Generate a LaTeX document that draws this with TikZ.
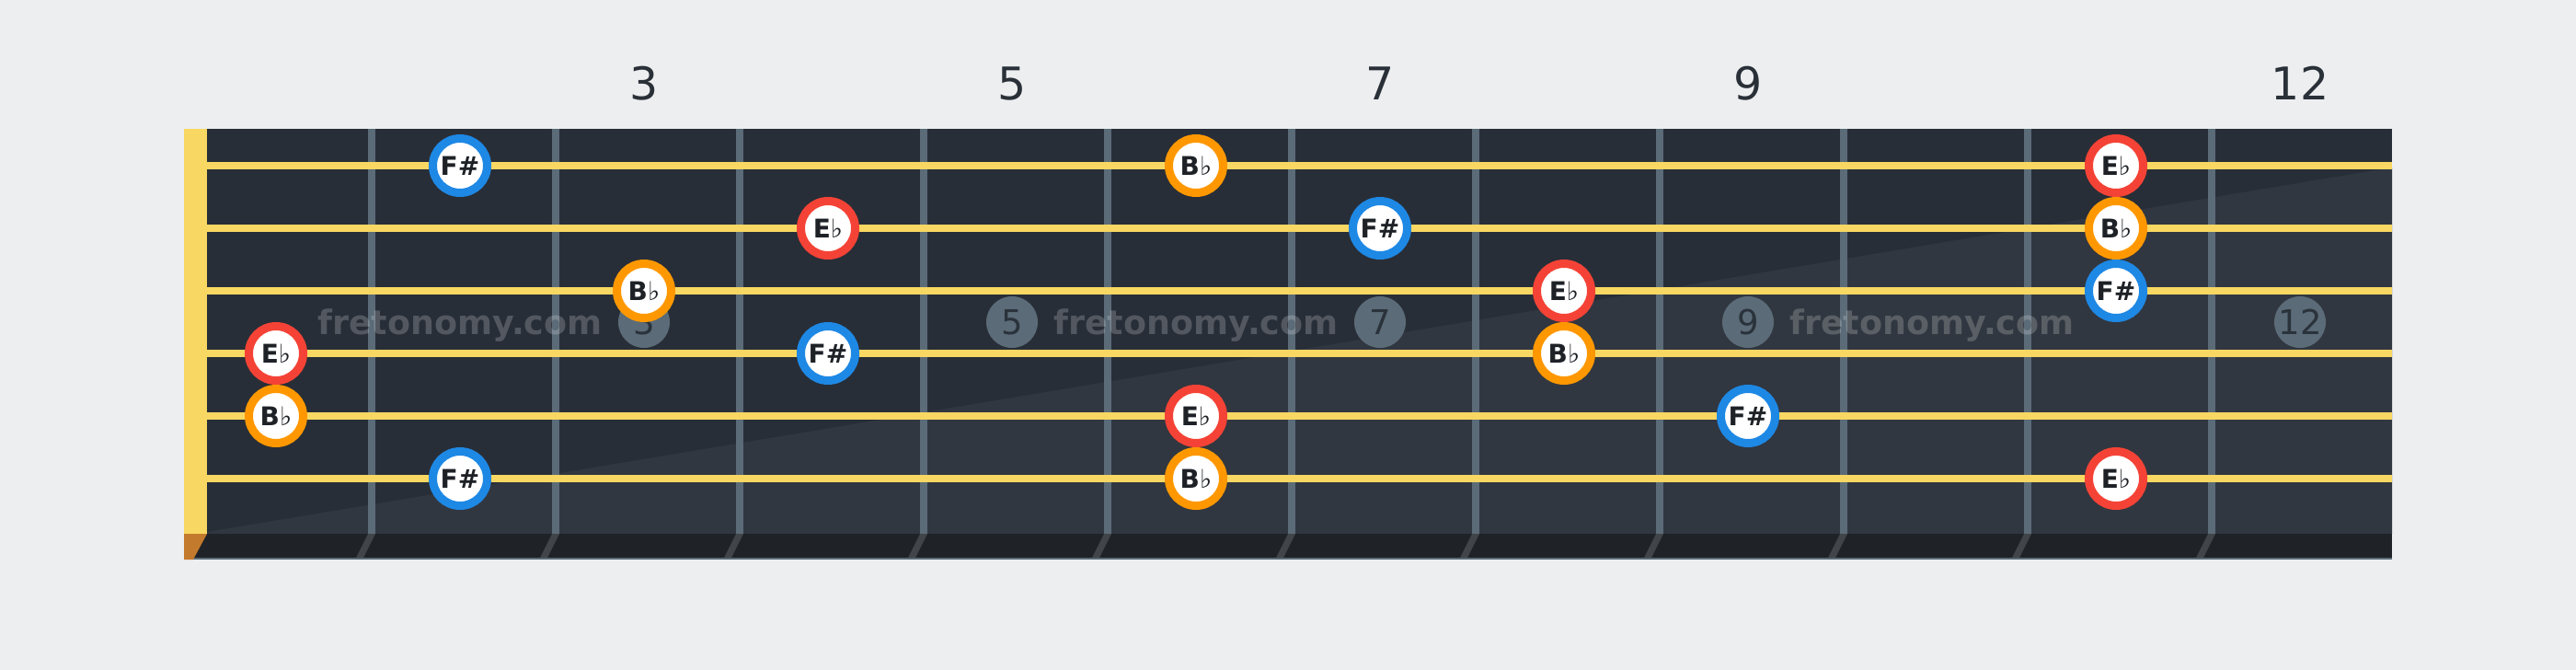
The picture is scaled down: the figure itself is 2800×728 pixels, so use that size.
\documentclass[tikz,border=0pt]{standalone}
\usepackage{fontspec}
\setmainfont{DejaVu Sans}
\definecolor{bg}{HTML}{EDEEF0}
\definecolor{board}{HTML}{282E37}
\definecolor{boardlight}{HTML}{313740}
\definecolor{fretc}{HTML}{5B6B78}
\definecolor{stringc}{HTML}{F8D762}
\definecolor{nutc}{HTML}{F8D862}
\definecolor{strip}{HTML}{1F2328}
\definecolor{stripfret}{HTML}{414549}
\definecolor{nutbot}{HTML}{C47A2C}
\definecolor{numtxt}{HTML}{2A3038}
\definecolor{inlaytxt}{HTML}{2A323B}
\definecolor{notetxt}{HTML}{1E2227}
\definecolor{fsharp}{HTML}{1E88E5}
\definecolor{bflat}{HTML}{FF9800}
\definecolor{eflat}{HTML}{F44336}
\begin{document}
\begin{tikzpicture}[x=1pt,y=-1pt,
  note/.style={circle, fill=white, draw=#1, line width=9pt, minimum size=59pt, inner sep=0pt,
    font=\fontsize{28}{28}\selectfont\bfseries, text=notetxt},
  inlay/.style={circle, fill=fretc, minimum size=56pt, inner sep=0pt,
    font=\fontsize{37}{37}\selectfont, text=inlaytxt},
  wm/.style={anchor=base, inner sep=0pt, font=\fontsize{36.5}{36.5}\selectfont\bfseries,
    text=white, text opacity=0.2},
  fretnum/.style={anchor=base, inner sep=0pt, font=\fontsize{49}{49}\selectfont, text=numtxt}]
\useasboundingbox (0,0) rectangle (2800,728);
\fill[bg] (0,0) rectangle (2800,728);
% fretboard
\fill[board] (225,140) rectangle (2600,580);
\fill[boardlight] (225,578) -- (2600,182) -- (2600,580) -- (225,580) -- cycle;
% bottom strip
\fill[strip] (200,580) rectangle (2600,606);
\fill[fretc] (200,606) rectangle (2600,608);
% frets
\foreach \i in {0,...,10}{
  \fill[fretc] ({400+200*\i},140) rectangle ({408+200*\i},580);
  \fill[stripfret] ({400+200*\i},580) -- ({408+200*\i},580) -- ({395+200*\i},606) -- ({387+200*\i},606) -- cycle;
}
% nut
\fill[nutc] (200,140) rectangle (225,580);
\fill[nutbot] (200,580) -- (225,580) -- (210,608) -- (200,608) -- cycle;
% fret numbers
\node[fretnum] (n3) at (700,108) {3};
\node[fretnum] (n5) at (1100,108) {5};
\node[fretnum] (n7) at (1500,108) {7};
\node[fretnum] (n9) at (1900,108) {9};
\node[fretnum] (n12) at (2500,108) {12};
% inlays
\node[inlay] (i3) at (700,350) {3};
\node[inlay] (i5) at (1100,350) {5};
\node[inlay] (i7) at (1500,350) {7};
\node[inlay] (i9) at (1900,350) {9};
\node[inlay] (i12) at (2500,350) {12};
% watermark
\node[wm] (w1) at (500,363) {fretonomy.com};
\node[wm] (w2) at (1300,363) {fretonomy.com};
\node[wm] (w3) at (2100,363) {fretonomy.com};
% strings
\foreach \y in {180,248,316,384,452,520}{
  \fill[stringc] (225,{\y-4}) rectangle (2600,{\y+4});
}
% notes
\newcommand{\Fs}{F\#}
\newcommand{\Bf}{B{\mdseries ♭}}
\newcommand{\Ef}{E{\mdseries ♭}}
% string 1
\node[note=fsharp] (a1) at (500,180) {\Fs};
\node[note=bflat] (a2) at (1300,180) {\Bf};
\node[note=eflat] (a3) at (2300,180) {\Ef};
% string 2
\node[note=eflat] (b1) at (900,248) {\Ef};
\node[note=fsharp] (b2) at (1500,248) {\Fs};
\node[note=bflat] (b3) at (2300,248) {\Bf};
% string 3
\node[note=bflat] (c1) at (700,316) {\Bf};
\node[note=eflat] (c2) at (1700,316) {\Ef};
\node[note=fsharp] (c3) at (2300,316) {\Fs};
% string 4
\node[note=eflat] (d1) at (300,384) {\Ef};
\node[note=fsharp] (d2) at (900,384) {\Fs};
\node[note=bflat] (d3) at (1700,384) {\Bf};
% string 5
\node[note=bflat] (e1) at (300,452) {\Bf};
\node[note=eflat] (e2) at (1300,452) {\Ef};
\node[note=fsharp] (e3) at (1900,452) {\Fs};
% string 6
\node[note=fsharp] (f1) at (500,520) {\Fs};
\node[note=bflat] (f2) at (1300,520) {\Bf};
\node[note=eflat] (f3) at (2300,520) {\Ef};
\end{tikzpicture}
\end{document}
